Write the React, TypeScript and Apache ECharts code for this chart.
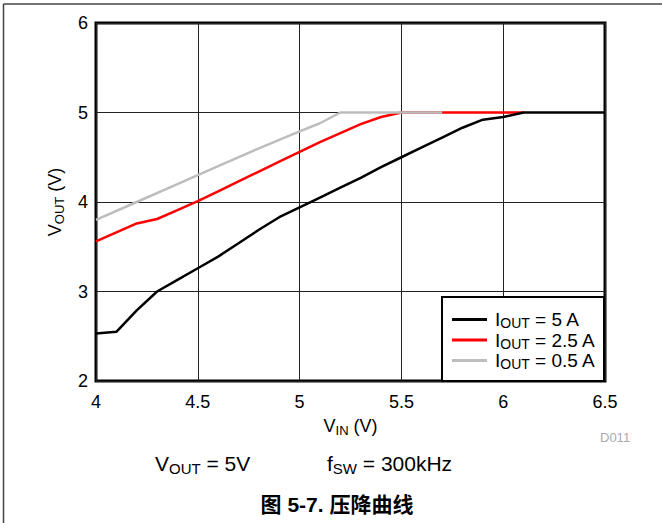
import React, { useEffect, useRef } from "react";
import * as echarts from "echarts";

// ---- data ----
const xTicks = [4, 4.5, 5, 5.5, 6, 6.5];
const yTicks = [2, 3, 4, 5, 6];

const vin5A = [4.0, 4.1, 4.2, 4.3, 4.4, 4.5, 4.6, 4.7, 4.8, 4.9, 5.0, 5.1, 5.2, 5.3, 5.4, 5.5, 5.6, 5.7, 5.8, 5.9, 6.0, 6.1, 6.5];
const vout5A = [2.53, 2.55, 2.79, 3.0, 3.13, 3.26, 3.39, 3.54, 3.69, 3.83, 3.94, 4.05, 4.16, 4.27, 4.39, 4.5, 4.61, 4.72, 4.83, 4.92, 4.95, 5.0, 5.0];

const vin2p5A = [4.0, 4.1, 4.2, 4.3, 4.4, 4.5, 4.6, 4.7, 4.8, 4.9, 5.0, 5.1, 5.2, 5.3, 5.4, 5.5, 5.7, 6.1];
const vout2p5A = [3.56, 3.66, 3.76, 3.81, 3.91, 4.01, 4.12, 4.23, 4.34, 4.45, 4.56, 4.67, 4.77, 4.87, 4.95, 5.0, 5.0, 5.0];

const vin0p5A = [4.0, 4.2, 4.4, 4.6, 4.8, 5.0, 5.1, 5.2, 5.5, 5.7];
const vout0p5A = [3.8, 4.0, 4.2, 4.4, 4.6, 4.79, 4.88, 5.0, 5.0, 5.0];

const seriesNames = ["IOUT = 5 A", "IOUT = 2.5 A", "IOUT = 0.5 A"];
const legendLabels: Record<string, string> = {
  "IOUT = 5 A": "{a|I}{b|OUT}{a| = 5 A}",
  "IOUT = 2.5 A": "{a|I}{b|OUT}{a| = 2.5 A}",
  "IOUT = 0.5 A": "{a|I}{b|OUT}{a| = 0.5 A}",
};

const FONT = "'Liberation Sans', Arial, sans-serif";

const zip = (xs: number[], ys: number[]) => xs.map((x, i) => [x, ys[i]]);

export default function App() {
  const ref = useRef<HTMLDivElement>(null);
  useEffect(() => {
    if (!ref.current) return;
    const chart = echarts.init(ref.current, undefined, { renderer: "svg" });
    const sub = (main: number, s: number, lh?: number) => ({
      a: { fontSize: main, fontFamily: FONT, color: "#000", lineHeight: lh ?? main + 4, verticalAlign: "middle" },
      b: { fontSize: s, fontFamily: FONT, color: "#000", lineHeight: s, verticalAlign: "bottom" },
    });
    chart.setOption({
      animation: false,
      backgroundColor: "#fff",
      grid: {
        left: 96,
        right: 57,
        top: 23,
        bottom: 142,
        show: true,
        borderColor: "#000",
        borderWidth: 3,
        backgroundColor: "transparent",
      },
      xAxis: {
        type: "value",
        min: 4,
        max: 6.5,
        interval: 0.5,
        axisLine: { show: false },
        axisTick: { show: false },
        splitLine: { show: true, lineStyle: { color: "#222", width: 1 } },
        axisLabel: {
          fontSize: 18,
          fontFamily: FONT,
          color: "#000",
          margin: 12,
          formatter: (v: number) => (xTicks.includes(v) ? String(v) : ""),
        },
        name: "{a|V}{b|IN}{a| (V)}",
        nameLocation: "middle",
        nameGap: 34,
        nameTextStyle: { rich: sub(18, 13) },
      },
      yAxis: {
        type: "value",
        min: 2,
        max: 6,
        interval: 1,
        axisLine: { show: false },
        axisTick: { show: false },
        splitLine: { show: true, lineStyle: { color: "#222", width: 1 } },
        axisLabel: {
          fontSize: 18,
          fontFamily: FONT,
          color: "#000",
          margin: 8,
          formatter: (v: number) => (yTicks.includes(v) ? String(v) : ""),
        },
        name: "{a|V}{b|OUT}{a| (V)}",
        nameLocation: "middle",
        nameGap: 30,
        nameTextStyle: { rich: sub(18, 13) },
      },
      legend: {
        data: seriesNames,
        orient: "vertical",
        left: 452,
        top: 310,
        padding: 0,
        itemGap: 0.5,
        itemWidth: 35,
        itemHeight: 3,
        icon: "rect",
        selectedMode: false,
        formatter: (name: string) => legendLabels[name],
        textStyle: { rich: sub(19, 14, 21), padding: [0, 0, 0, 3] },
        z: 10,
      },
      graphic: [
        {
          type: "rect",
          z: 5,
          shape: { x: 442, y: 297, width: 162, height: 84 },
          style: { fill: "#fff", stroke: "#000", lineWidth: 2 },
        },
        {
          type: "line",
          shape: { x1: 3.5, y1: 4, x2: 662, y2: 4 },
          style: { stroke: "#444", lineWidth: 1.5 },
        },
        {
          type: "line",
          shape: { x1: 3.5, y1: 4, x2: 3.5, y2: 523 },
          style: { stroke: "#444", lineWidth: 1.5 },
        },
        {
          type: "text",
          x: 600,
          y: 437,
          style: { text: "D011", fontSize: 13, fontFamily: FONT, fill: "#aaa", verticalAlign: "middle" },
        },
        {
          type: "text",
          x: 155,
          y: 463,
          style: { text: "{a|V}{b|OUT}{a| = 5V}", rich: sub(21, 15), verticalAlign: "middle" },
        },
        {
          type: "text",
          x: 327,
          y: 463,
          style: { text: "{a|f}{b|SW}{a| = 300kHz}", rich: sub(21, 15), verticalAlign: "middle" },
        },
        {
          type: "text",
          x: 337,
          y: 504,
          style: {
            text: "图 5-7. 压降曲线",
            fontSize: 21,
            fontWeight: "bold",
            fontFamily: "'Liberation Sans', 'Noto Sans CJK SC', sans-serif",
            fill: "#000",
            align: "center",
            verticalAlign: "middle",
          },
        },
      ],
      series: [
        {
          name: seriesNames[1],
          type: "line",
          data: zip(vin2p5A, vout2p5A),
          symbol: "none",
          lineStyle: { color: "#ff0000", width: 2.5 },
          itemStyle: { color: "#ff0000" },
          z: 2,
        },
        {
          name: seriesNames[2],
          type: "line",
          data: zip(vin0p5A, vout0p5A),
          symbol: "none",
          lineStyle: { color: "#bdbdbd", width: 2.5 },
          itemStyle: { color: "#bdbdbd" },
          z: 3,
        },
        {
          name: seriesNames[0],
          type: "line",
          data: zip(vin5A, vout5A),
          symbol: "none",
          lineStyle: { color: "#000", width: 2.5 },
          itemStyle: { color: "#000" },
          z: 4,
        },
      ],
    });
    return () => chart.dispose();
  }, []);
  return (
    <div
      ref={ref}
      style={{ position: "fixed", left: 0, top: 0, width: 662, height: 523, background: "#fff" }}
    />
  );
}
